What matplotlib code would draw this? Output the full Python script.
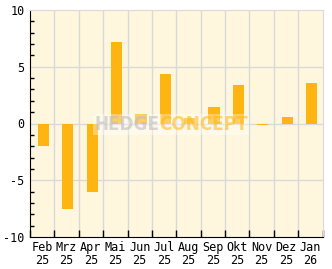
import matplotlib
matplotlib.use("Agg")
import matplotlib.pyplot as plt
import numpy as np

months = ["Feb", "Mrz", "Apr", "Mai", "Jun", "Jul", "Aug", "Sep", "Okt", "Nov", "Dez", "Jan"]
years = ["25", "25", "25", "25", "25", "25", "25", "25", "25", "25", "25", "26"]
values = [-1.95, -7.55, -6.0, 7.2, 0.8, 4.35, 0.5, 1.45, 3.35, -0.12, 0.6, 3.6]

bar_color = "#FFB511"
bg_color = "#FFF6DE"
grid_color = "#D9D9D9"

fig = plt.figure(figsize=(3.32, 2.69), dpi=100)
ax = fig.add_axes([30 / 332, 32 / 269, 292.5 / 332, 227 / 269])
ax.set_facecolor(bg_color)

x = np.arange(len(months))
ax.bar(x + 0.55, values, width=0.46, color=bar_color, zorder=2)

ax.set_xlim(0, len(months))
ax.set_ylim(-10, 10)

# grid lines on category boundaries and every 5 units
for b in range(1, len(months)):
    ax.axvline(b, color=grid_color, lw=1, zorder=1)
for yv in [-5, 0, 5]:
    ax.axhline(yv, color=grid_color, lw=1, zorder=1)

ax.set_yticks([-10, -5, 0, 5, 10])
ax.set_yticklabels(["-10", "-5", "0", "5", "10"])
ax.set_yticks(np.arange(-10, 11, 1), minor=True)
ax.tick_params(axis="y", which="both", direction="in", length=3, width=1, labelsize=8.5, pad=4)
ax.tick_params(axis="y", which="major", length=0)

ax.set_xticks(np.arange(0, len(months) + 1))
ax.set_xticklabels([])
ax.set_xticks(x + 0.5, minor=True)
ax.set_xticklabels([m + "\n" + yr for m, yr in zip(months, years)], minor=True)
ax.tick_params(axis="x", which="major", direction="in", length=5, width=1)
ax.tick_params(axis="x", which="minor", length=0, labelsize=8.5, pad=3)

for lbl in ax.get_xticklabels(minor=True) + ax.get_yticklabels():
    lbl.set_family("DejaVu Sans Mono")
    lbl.set_linespacing(1.0)

ax.spines["left"].set_color("black")
ax.spines["bottom"].set_color("black")
ax.spines["top"].set_color(grid_color)
ax.spines["right"].set_color(grid_color)

# watermark
wm_font = ["Liberation Sans Narrow", "DejaVu Sans"]
ax.text(5.3, -0.1, "HEDGE", color="#BDBDBD", alpha=0.6, fontsize=13.5, fontweight="bold",
        ha="right", va="center", family=wm_font, fontstretch="condensed", zorder=3,
        bbox=dict(facecolor="white", edgecolor="none", alpha=0.35, pad=1.0))
ax.text(5.3, -0.1, "CONCEPT", color="#FFB511", alpha=0.55, fontsize=13.5, fontweight="bold",
        ha="left", va="center", family=wm_font, fontstretch="condensed", zorder=3,
        bbox=dict(facecolor="white", edgecolor="none", alpha=0.35, pad=1.0))

fig.savefig("out.png", dpi=100, facecolor="white")
